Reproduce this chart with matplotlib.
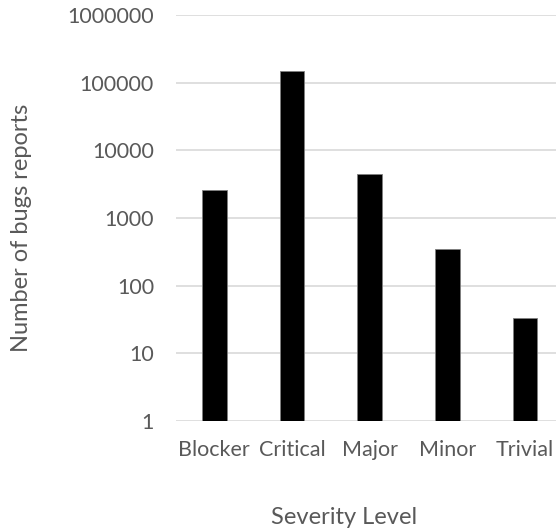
import matplotlib
matplotlib.use("Agg")
import matplotlib.pyplot as plt
import numpy as np

categories = ["Blocker", "Critical", "Major", "Minor", "Trivial"]
counts = [2620, 147000, 4420, 344, 33.6]
yticks = [1, 10, 100, 1000, 10000, 100000, 1000000]
ytick_labels = ["1", "10", "100", "1000", "10000", "100000", "1000000"]

plt.rcParams['font.family'] = ['Lato', 'DejaVu Sans']

W, H = 556, 532
fig = plt.figure(figsize=(W/100, H/100), dpi=100)
left_px, right_px, top_px, bot_px = 175.5, 556, 15, 421
ax = fig.add_axes([left_px/W, 1 - bot_px/H, (right_px-left_px)/W, (bot_px-top_px)/H])

x = np.arange(len(categories))
ax.bar(x, counts, width=0.315, color='black', edgecolor='#7f7f7f', linewidth=0.6, zorder=3)
ax.set_yscale('log')
ax.set_ylim(1, 1e6)
ax.set_xlim(-0.5, 4.398)
ax.set_yticks(yticks)
ax.set_yticklabels(ytick_labels)
ax.yaxis.set_minor_locator(matplotlib.ticker.NullLocator())
ax.set_xticks(x)
ax.set_xticklabels(categories)
ax.grid(axis='y', color='#d9d9d9', linewidth=1.2, zorder=0)
for s in ax.spines.values():
    s.set_visible(False)
ax.tick_params(axis='both', length=0, colors='#595959', labelsize=15.5)
ax.tick_params(axis='y', pad=15.5)
ax.tick_params(axis='x', pad=14)

fig.text(344/W, 1 - 517/H, "Severity Level", ha='center', va='center', fontsize=17, color='#595959')
fig.text(22/W, 1 - 228/H, "Number of bugs reports", ha='center', va='center', rotation=90, fontsize=17, color='#595959')

fig.savefig("out.png", dpi=100)
